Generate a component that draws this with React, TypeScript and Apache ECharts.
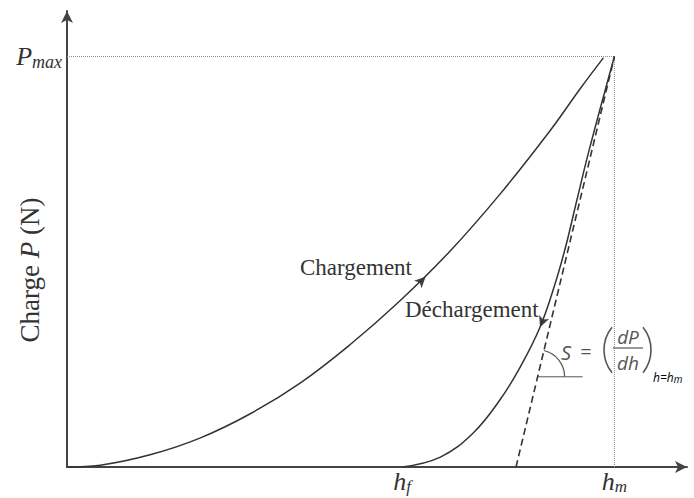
import React, { useEffect, useRef } from "react";
import * as echarts from "echarts";

// Indentation curve readings (h, P) in arbitrary units
const loadingCurve: [number, number][] = [
  [0, 0], [5.4, 0.4], [13.5, 2.7], [21.6, 6.4], [29.8, 11.8], [37.9, 18.6],
  [46.0, 27.1], [54.1, 36.8], [62.3, 47.9], [70.4, 60.5], [78.5, 74.5],
  [83.4, 83.8], [87.2, 90.7],
];
const unloadingCurve: [number, number][] = [
  [54.5, 0], [60.7, 2.2], [66.0, 7.5], [70.4, 14.9], [73.7, 22.2], [76.9, 31.0],
  [79.3, 40.4], [81.1, 49.0], [82.9, 59.2], [84.9, 70.3], [89, 91],
];
const hf = 54.5;
const hm = 89;
const pMax = 91;
const tangentFoot = 73;
const tangentLine: [number, number][] = [[tangentFoot, 0], [hm, pMax]];
const pMaxLine: [number, number][] = [[0, pMax], [hm, pMax]];
const hmLine: [number, number][] = [[hm, 0], [hm, pMax]];
// direction arrows on the curves: [h, P, rotation deg]
const loadArrow: [number, number, number] = [58.3, 42.2, -45];
const unloadArrow: [number, number, number] = [76.9, 31.0, 158];
const angleAtP = 20;

const INK = "#333";

export default function App() {
  const ref = useRef<HTMLDivElement>(null);
  useEffect(() => {
    if (!ref.current) return;
    const chart = echarts.init(ref.current, undefined, { renderer: "svg" });
    const serif = "'Liberation Serif', 'Times New Roman', serif";
    const sans = "'Open Sans', 'Liberation Sans', sans-serif";
    chart.setOption({
      animation: false,
      backgroundColor: "#fff",
      grid: { left: 67, right: 7, top: 11, bottom: 31 },
      xAxis: {
        type: "value",
        min: 0,
        max: 100.8,
        interval: 0.5,
        axisLine: {
          show: true,
          symbol: ["none", "arrow"],
          symbolSize: [9, 12],
          lineStyle: { color: "#444", width: 2 },
        },
        axisTick: { show: false },
        splitLine: { show: false },
        axisLabel: {
          interval: 0,
          margin: 1,
          formatter: (v: number) =>
            v === hf ? "{h|h}{s|f}" : v === hm ? "{h|h}{s|m}" : "",
          rich: {
            h: { fontSize: 26, fontStyle: "italic", fontFamily: serif, color: INK },
            s: { fontSize: 17, fontStyle: "italic", fontFamily: serif, color: INK, padding: [10, 0, 0, 0] },
          },
        },
      },
      yAxis: {
        type: "value",
        min: 0,
        max: 101.1,
        interval: 1,
        axisLine: {
          show: true,
          symbol: ["none", "arrow"],
          symbolSize: [9, 12],
          lineStyle: { color: "#444", width: 2 },
        },
        axisTick: { show: false },
        splitLine: { show: false },
        axisLabel: {
          interval: 0,
          margin: 5,
          formatter: (v: number) => (v === pMax ? "{p|P}{s|max}" : ""),
          rich: {
            p: { fontSize: 26, fontStyle: "italic", fontFamily: serif, color: INK },
            s: { fontSize: 18, fontStyle: "italic", fontFamily: serif, color: INK, padding: [10, 0, 0, 0] },
          },
        },
      },
      series: [
        {
          type: "line", data: pMaxLine, symbol: "none", silent: true,
          lineStyle: { color: "#888", width: 1, type: "dotted" },
        },
        {
          type: "line", data: hmLine, symbol: "none", silent: true,
          lineStyle: { color: "#888", width: 1, type: "dotted" },
        },
        {
          type: "line", data: tangentLine, symbol: "none",
          lineStyle: { color: INK, width: 1.6, type: [7, 4] },
        },
        {
          type: "line", data: loadingCurve, symbol: "none", smooth: 0.4,
          lineStyle: { color: INK, width: 1.5 },
        },
        {
          type: "line", data: unloadingCurve, symbol: "none", smooth: 0.4,
          lineStyle: { color: INK, width: 1.5 },
        },
        {
          type: "scatter",
          data: [
            { value: [loadArrow[0], loadArrow[1]], symbolRotate: loadArrow[2] },
            { value: [unloadArrow[0], unloadArrow[1]], symbolRotate: unloadArrow[2] },
          ],
          symbol: "arrow",
          symbolSize: [8, 11],
          itemStyle: { color: "#111" },
        },
      ],
    });

    const toPx = (p: [number, number]) => chart.convertToPixel({ gridIndex: 0 }, p) as number[];
    const arcP = toPx([tangentFoot + ((hm - tangentFoot) * angleAtP) / pMax, angleAtP]);
    const top = toPx([hm, pMax]);
    const foot = toPx([tangentFoot, 0]);
    const tangAngle = Math.atan2(foot[1] - top[1], top[0] - foot[0]);
    const cx = arcP[0];
    const cy = arcP[1];
    const gray = "#555";
    const fx = 566;
    chart.setOption({
      graphic: [
        {
          type: "line",
          shape: { x1: cx, y1: cy, x2: cx + 45, y2: cy },
          style: { stroke: gray, lineWidth: 1 },
        },
        {
          type: "arc",
          shape: { cx, cy, r: 27, startAngle: -tangAngle, endAngle: 0, clockwise: true },
          style: { stroke: gray, lineWidth: 1.2, fill: "none" },
        },
        {
          type: "text", x: 300, y: 267,
          style: { text: "Chargement", font: `23px ${serif}`, fill: INK, verticalAlign: "middle" },
        },
        {
          type: "text", x: 405, y: 309,
          style: { text: "Déchargement", font: `23px ${serif}`, fill: INK, verticalAlign: "middle" },
        },
        {
          type: "text", x: 30, y: 270, rotation: Math.PI / 2,
          style: {
            text: "{n|Charge }{i|P}{n| (N)}",
            align: "center",
            verticalAlign: "middle",
            rich: {
              n: { fontSize: 27, fontFamily: serif, fill: INK, color: INK },
              i: { fontSize: 27, fontFamily: serif, fontStyle: "italic", fill: INK, color: INK },
            },
          },
        },
        {
          type: "text", x: fx, y: 352,
          style: { text: "S", font: `italic 20px ${sans}`, fill: gray, align: "center", verticalAlign: "middle" },
        },
        {
          type: "text", x: fx + 20, y: 351,
          style: { text: "=", font: `20px ${sans}`, fill: gray, align: "center", verticalAlign: "middle" },
        },
        {
          type: "arc",
          shape: { cx: 640, cy: 350, r: 36, startAngle: Math.PI - 0.68, endAngle: Math.PI + 0.68, clockwise: true },
          style: { stroke: gray, lineWidth: 1.6, fill: "none" },
        },
        {
          type: "arc",
          shape: { cx: 615, cy: 350, r: 36, startAngle: -0.68, endAngle: 0.68, clockwise: true },
          style: { stroke: gray, lineWidth: 1.6, fill: "none" },
        },
        {
          type: "text", x: 628, y: 337,
          style: { text: "dP", font: `italic 19px ${sans}`, fill: gray, align: "center", verticalAlign: "middle" },
        },
        {
          type: "line",
          shape: { x1: 613, y1: 348, x2: 643, y2: 348 },
          style: { stroke: gray, lineWidth: 1.2 },
        },
        {
          type: "text", x: 628, y: 363,
          style: { text: "dh", font: `italic 19px ${sans}`, fill: gray, align: "center", verticalAlign: "middle" },
        },
        {
          type: "text", x: 653, y: 377,
          style: {
            text: "{a|h=h}{b|m}",
            verticalAlign: "middle",
            rich: {
              a: { fontSize: 12, fontFamily: sans, fontStyle: "italic", color: gray },
              b: { fontSize: 10, fontFamily: sans, fontStyle: "italic", color: gray, padding: [3, 0, 0, 0] },
            },
          },
        },
      ],
    });
    return () => chart.dispose();
  }, []);
  return <div ref={ref} style={{ width: 694, height: 498, position: "absolute", left: 0, top: 0 }} />;
}
